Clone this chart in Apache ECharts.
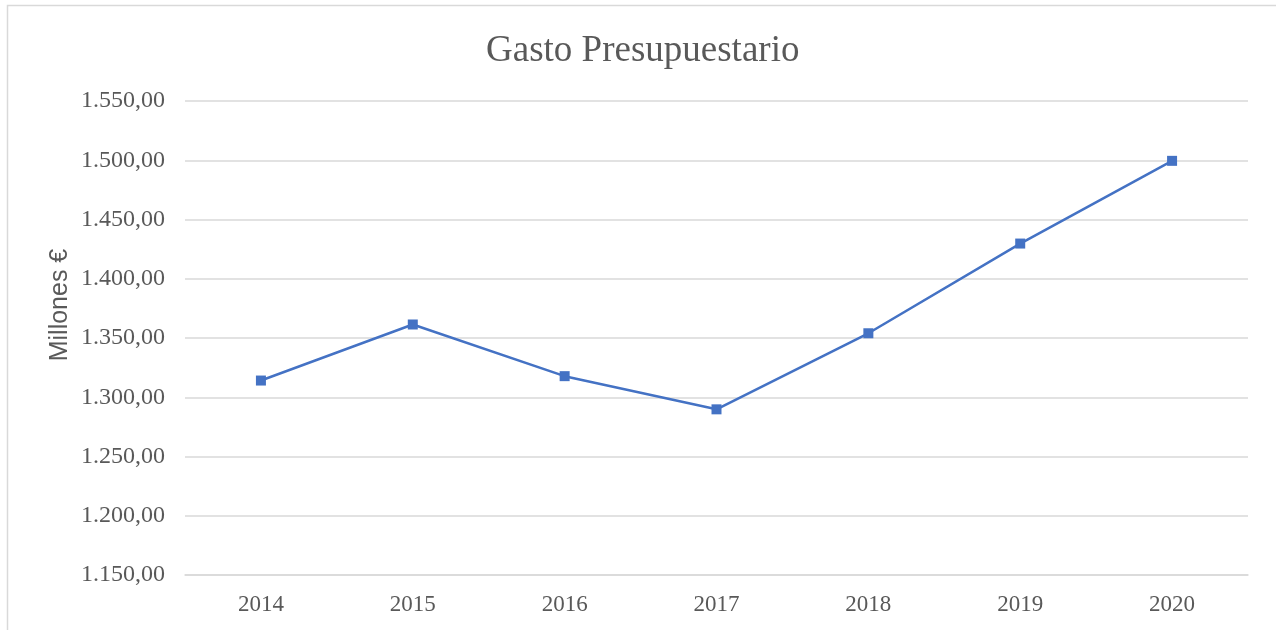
<!DOCTYPE html>
<html>
<head>
<meta charset="utf-8">
<script src="https://cdn.jsdelivr.net/npm/echarts@6/dist/echarts.min.js"></script>
<style>html,body{margin:0;padding:0;background:#fff;}#chart{width:1276px;height:630px;}</style>
</head>
<body>
<div id="chart"></div>
<script>
const titleText = "Gasto Presupuestario";
const yAxisTitle = "Millones €";
const years = ["2014", "2015", "2016", "2017", "2018", "2019", "2020"];
const gasto = [1314.1, 1361.4, 1317.8, 1289.8, 1354.0, 1429.7, 1499.5];
const yMin = 1150, yMax = 1550, yStep = 50;

function fmtEs(v) {
  const parts = v.toFixed(2).split(".");
  const intPart = parts[0].replace(/\B(?=(\d{3})+(?!\d))/g, ".");
  return intPart + "," + parts[1];
}

const chart = echarts.init(document.getElementById("chart"), null, {renderer: "canvas"});
chart.setOption({
  backgroundColor: "#ffffff",
  animation: false,
  title: {
    text: titleText,
    left: 486,
    top: 33,
    padding: 0,
    textStyle: {fontFamily: "Liberation Serif", fontSize: 37, fontWeight: "normal", color: "#595959"}
  },
  graphic: [
    {type: "rect", shape: {x: 7.5, y: 5.5, width: 1400, height: 800}, style: {fill: "none", stroke: "#d9d9d9", lineWidth: 1.5}, silent: true},
    {type: "text", x: 60, y: 305, rotation: Math.PI / 2,
     style: {text: yAxisTitle, fontFamily: "Liberation Sans", fontSize: 25, fill: "#595959", align: "center", verticalAlign: "middle"}}
  ],
  grid: {left: 185, right: 28, top: 101, bottom: 55, containLabel: false},
  xAxis: {
    type: "category",
    data: years,
    boundaryGap: true,
    axisLine: {show: true, lineStyle: {color: "#d9d9d9", width: 1.5}},
    axisTick: {show: false},
    axisLabel: {fontFamily: "Liberation Serif", fontSize: 23, color: "#595959", margin: 18}
  },
  yAxis: {
    type: "value",
    min: yMin, max: yMax, interval: yStep,
    axisLine: {show: false},
    axisTick: {show: false},
    splitLine: {show: true, lineStyle: {color: "#d9d9d9", width: 1.5}},
    axisLabel: {fontFamily: "Liberation Serif", fontSize: 24, color: "#595959", margin: 20, formatter: fmtEs}
  },
  series: [{
    type: "line",
    data: gasto,
    symbol: "rect",
    symbolSize: 10,
    lineStyle: {color: "#4472C4", width: 2.5},
    itemStyle: {color: "#4472C4"}
  }]
});
</script>
</body>
</html>
